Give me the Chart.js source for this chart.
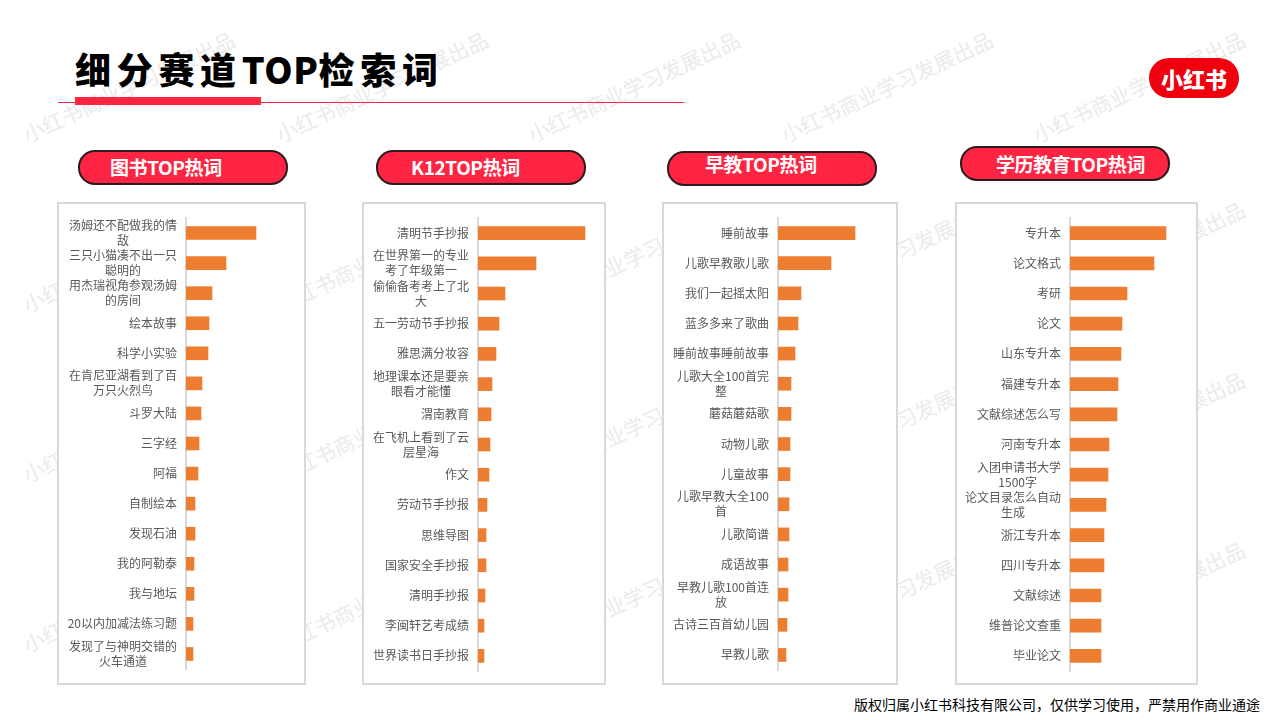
<!DOCTYPE html>
<html lang="zh-CN">
<head>
<meta charset="UTF-8">
<title>细分赛道TOP检索词</title>
<script src="https://cdn.jsdelivr.net/npm/chart.js@4"></script>
<style>
    html, body { margin: 0; padding: 0; background: #fff; }
    body { width: 1280px; height: 720px; position: relative; overflow: hidden; font-family: "Noto Sans CJK SC", sans-serif; }
    .mark { position: absolute; font-size: 21px; color: #ebebeb; white-space: nowrap; transform: rotate(-25deg); transform-origin: left bottom; line-height: 24px; }
    h1 { position: absolute; left: 75px; top: 41px; margin: 0; font-size: 36px; line-height: 54px; font-weight: 900; letter-spacing: 5.7px; color: #000; white-space: nowrap; }
    h1 span { letter-spacing: 0.6px; }
    .thin { position: absolute; left: 58px; top: 102px; width: 626px; height: 1px; background: #ff2442; }
    .thick { position: absolute; left: 75px; top: 97px; width: 186px; height: 8px; background: #ff2442; }
    .logo { position: absolute; left: 1149px; top: 58px; width: 90px; height: 40px; border-radius: 20px; background: #f0000f; color: #fff; font-size: 22px; font-weight: 900; line-height: 40px; text-align: center; }
    .pill { position: absolute; width: 206px; height: 31px; border: 2px solid #2b1a1e; border-radius: 17px; background: #ff2442; color: #fff; font-size: 19px; font-weight: 700; line-height: 30px; letter-spacing: -0.4px; white-space: nowrap; }
    .pill span { position: absolute; }
    .box { position: absolute; top: 202px; height: 479px; border: 2px solid #d9d9d9; background: #fff; }
    .box canvas { position: absolute; left: -2px; top: -2px; }
    .foot { position: absolute; left: 854px; top: 694px; font-size: 14px; line-height: 20px; color: #000; white-space: nowrap; }
</style>
</head>
<body>
<div id="marks"></div>
<h1>细分赛道<span>TOP</span>检索词</h1>
<div class="thin"></div>
<div class="thick"></div>
<div class="logo">小红书</div>

<div class="pill" style="left:78px;top:150px"><span style="left:30px;top:0">图书TOP热词</span></div>
<div class="pill" style="left:376px;top:150px"><span style="left:33px;top:0">K12TOP热词</span></div>
<div class="pill" style="left:667px;top:151px"><span style="left:36px;top:-4px">早教TOP热词</span></div>
<div class="pill" style="left:960px;top:146px"><span style="left:34px;top:1px">学历教育TOP热词</span></div>

<div class="box" style="left:57px;width:245px"><canvas id="bookChart" width="249" height="483"></canvas></div>
<div class="box" style="left:362px;width:240px"><canvas id="k12Chart" width="244" height="483"></canvas></div>
<div class="box" style="left:662px;width:232px"><canvas id="earlyChart" width="236" height="483"></canvas></div>
<div class="box" style="left:955px;width:239px"><canvas id="degreeChart" width="243" height="483"></canvas></div>

<div class="foot">版权归属小红书科技有限公司，仅供学习使用，严禁用作商业通途</div>

<script>
    const bookLabels = [['汤姆还不配做我的情', '敌'], ['三只小猫凑不出一只', '聪明的'], ['用杰瑞视角参观汤姆', '的房间'], '绘本故事', '科学小实验',
        ['在肯尼亚湖看到了百', '万只火烈鸟'], '斗罗大陆', '三字经', '阿福', '自制绘本', '发现石油', '我的阿勒泰', '我与地坛', '20以内加减法练习题', ['发现了与神明交错的', '火车通道']];
    const bookValues = [70, 40, 26, 23, 22, 16, 15, 13, 12, 9, 9, 8, 8, 7, 7];

    const k12Labels = ['清明节手抄报', ['在世界第一的专业', '考了年级第一'], ['偷偷备考考上了北', '大'], '五一劳动节手抄报', '雅思满分妆容',
        ['地理课本还是要亲', '眼看才能懂'], '渭南教育', ['在飞机上看到了云', '层星海'], '作文', '劳动节手抄报', '思维导图', '国家安全手抄报', '清明手抄报', '李闽轩艺考成绩', '世界读书日手抄报'];
    const k12Values = [107, 58, 27, 21, 18, 14, 13, 12, 11, 9, 8, 8, 7, 6, 6];

    const earlyLabels = ['睡前故事', '儿歌早教歌儿歌', '我们一起摇太阳', '蓝多多来了歌曲', '睡前故事睡前故事', ['儿歌大全100首完', '整'], '蘑菇蘑菇歌', '动物儿歌', '儿童故事',
        ['儿歌早教大全100', '首'], '儿歌简谱', '成语故事', ['早教儿歌100首连', '放'], '古诗三百首幼儿园', '早教儿歌'];
    const earlyValues = [77, 53, 23, 20, 17, 13, 13, 12, 12, 11, 11, 10, 10, 9, 8];

    const degreeLabels = ['专升本', '论文格式', '考研', '论文', '山东专升本', '福建专升本', '文献综述怎么写', '河南专升本', ['入团申请书大学', '1500字'],
        ['论文目录怎么自动', '生成'], '浙江专升本', '四川专升本', '文献综述', '维普论文查重', '毕业论文'];
    const degreeValues = [96, 84, 57, 52, 51, 48, 47, 39, 38, 36, 34, 34, 31, 31, 31];

    const tickFont = '"Noto Sans CJK SC", sans-serif';

    // watermark tiles
    const markText = '小红书商业学习发展出品';
    const marksDiv = document.getElementById('marks');
    [29, 282, 534, 787, 1039].forEach(x => {
        [146, 316, 486, 656].forEach(y => {
            const span = document.createElement('div');
            span.className = 'mark';
            span.textContent = markText;
            span.style.left = x + 'px';
            span.style.top = (y - 24) + 'px';
            marksDiv.appendChild(span);
        });
    });

    // Chart.js right-aligns every line of a tick, the reference centres them:
    // pad the shorter lines on the right with en spaces
    const measure = document.createElement('canvas').getContext('2d');
    measure.font = '12px ' + tickFont;
    function centreLines(label) {
        if (!Array.isArray(label)) return label;
        const widest = Math.max(...label.map(l => measure.measureText(l).width));
        return label.map(l => l + '\u2002'.repeat(Math.round((widest - measure.measureText(l).width) / 12)));
    }

    function drawPanel(id, labels, values, axisOffset, bottomGap) {
        const canvas = document.getElementById(id);
        new Chart(canvas, {
            type: 'bar',
            data: {
                labels: labels.map(centreLines),
                datasets: [{ data: values, backgroundColor: '#ed7d31', barThickness: 13 }]
            },
            options: {
                indexAxis: 'y',
                responsive: false,
                animation: false,
                devicePixelRatio: 1,
                layout: { padding: { top: 16, bottom: bottomGap } },
                plugins: { legend: { display: false }, tooltip: { enabled: false } },
                scales: {
                    x: { display: false, min: 0, max: canvas.width - axisOffset },
                    y: {
                        afterFit: scale => {
                            scale.width = axisOffset;
                            // tall first/last labels would otherwise squeeze the plot
                            scale.paddingTop = 0;
                            scale.paddingBottom = 0;
                        },
                        grid: { display: false, drawTicks: false },
                        border: { color: '#d9d9d9', width: 2 },
                        ticks: { autoSkip: false, padding: 9, color: '#595959', font: { family: tickFont, size: 12, lineHeight: 1.25 } }
                    }
                }
            }
        });
    }

    drawPanel('bookChart', bookLabels, bookValues, 129, 16);
    drawPanel('k12Chart', k12Labels, k12Values, 116, 14);
    drawPanel('earlyChart', earlyLabels, earlyValues, 116, 15);
    drawPanel('degreeChart', degreeLabels, degreeValues, 115, 14);
</script>
</body>
</html>
